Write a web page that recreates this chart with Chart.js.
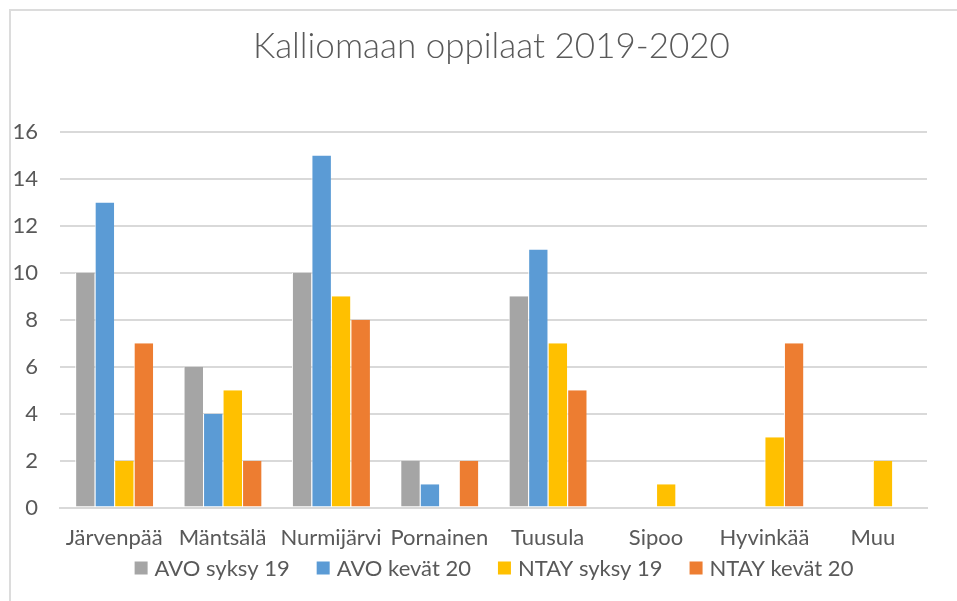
<!DOCTYPE html>
<html>
<head>
<meta charset="utf-8">
<script src="https://cdn.jsdelivr.net/npm/chart.js@4/dist/chart.umd.min.js"></script>
<style>
    html, body { margin: 0; padding: 0; background: #fff; }
    #wrap { width: 957px; height: 601px; }
</style>
</head>
<body>
<div id="wrap"><canvas id="myChart"></canvas></div>
<script>
// data
var kunnat = ['Järvenpää', 'Mäntsälä', 'Nurmijärvi', 'Pornainen', 'Tuusula', 'Sipoo', 'Hyvinkää', 'Muu'];
var avoSyksy19 = [10, 6, 10, 2, 9, 0, 0, 0];
var avoKevat20 = [13, 4, 15, 1, 11, 0, 0, 0];
var ntaySyksy19 = [2, 5, 9, 0, 7, 1, 3, 2];
var ntayKevat20 = [7, 2, 8, 2, 5, 0, 7, 0];
var yTicks = [0, 2, 4, 6, 8, 10, 12, 14, 16];

var textColor = '#595959';
var gridColor = '#D9D9D9';
var labelFont = '22px Lato';

// light frame like the excel chart area
var framePlugin = {
    id: 'frame',
    beforeDraw: function (chart) {
        var ctx = chart.ctx;
        ctx.save();
        ctx.strokeStyle = '#DCDCDC';
        ctx.lineWidth = 2;
        ctx.beginPath();
        ctx.moveTo(10, chart.height);
        ctx.lineTo(10, 10);
        ctx.lineTo(chart.width, 10);
        ctx.stroke();
        ctx.restore();
    }
};

// excel centres the title on the whole (wider) chart area, push it right a bit
var shiftPlugin = {
    id: 'shift',
    afterLayout: function (chart) {
        if (chart.titleBlock) {
            chart.titleBlock.left += 23;
            chart.titleBlock.right += 23;
        }
    }
};

// legend drawn by hand so the spacing can look like excel
var excelLegend = {
    id: 'excelLegend',
    afterDraw: function (chart) {
        var ctx = chart.ctx;
        var sets = chart.data.datasets;
        var box = 13, gap = 7, space = 27;
        ctx.save();
        ctx.font = labelFont;
        var total = 0;
        var widths = sets.map(function (ds) { return ctx.measureText(ds.label).width; });
        widths.forEach(function (w) { total += box + gap + w; });
        total += space * (sets.length - 1);
        var x = 494 - total / 2;
        var y = 568;
        ctx.textBaseline = 'middle';
        ctx.textAlign = 'left';
        sets.forEach(function (ds, i) {
            ctx.fillStyle = ds.backgroundColor;
            ctx.fillRect(x, y - box / 2, box, box);
            ctx.fillStyle = textColor;
            ctx.fillText(ds.label, x + box + gap, y + 1);
            x += box + gap + widths[i] + space;
        });
        ctx.restore();
    }
};

function bar(label, data, color) {
    return {
        label: label,
        data: data,
        backgroundColor: color,
        borderColor: '#ffffff',
        borderWidth: { left: 1, right: 0, top: 0, bottom: 0 },
        borderSkipped: false,
        categoryPercentage: 0.72,
        barPercentage: 1.0
    };
}

var ctx = document.getElementById('myChart').getContext('2d');
var myChart = new Chart(ctx, {
    type: 'bar',
    data: {
        labels: kunnat,
        datasets: [
            bar('AVO syksy 19', avoSyksy19, '#A5A5A5'),
            bar('AVO kevät 20', avoKevat20, '#5B9BD5'),
            bar('NTAY syksy 19', ntaySyksy19, '#FFC000'),
            bar('NTAY kevät 20', ntayKevat20, '#ED7D31')
        ]
    },
    plugins: [framePlugin, shiftPlugin, excelLegend],
    options: {
        responsive: true,
        maintainAspectRatio: false,
        animation: false,
        layout: {
            padding: { left: 10, right: 30, top: 0, bottom: 41 }
        },
        plugins: {
            title: {
                display: true,
                text: 'Kalliomaan oppilaat 2019-2020',
                color: textColor,
                font: { family: 'Lato', size: 35, weight: '300' },
                padding: { top: 26, bottom: 64 }
            },
            legend: { display: false },
            tooltip: { enabled: false }
        },
        scales: {
            x: {
                grid: { display: false },
                border: { display: true, color: gridColor, width: 2 },
                ticks: {
                    color: textColor,
                    font: { family: 'Lato', size: 22 },
                    padding: 9,
                    maxRotation: 0,
                    autoSkip: false
                }
            },
            y: {
                min: 0,
                max: 16,
                afterFit: function (scale) { scale.width = 50; },
                afterBuildTicks: function (scale) {
                    scale.ticks = yTicks.map(function (v) { return { value: v }; });
                },
                grid: { color: gridColor, lineWidth: 2, drawTicks: false },
                border: { display: false },
                ticks: {
                    color: textColor,
                    font: { family: 'Lato', size: 22 },
                    padding: 22
                }
            }
        }
    }
});
</script>
</body>
</html>
